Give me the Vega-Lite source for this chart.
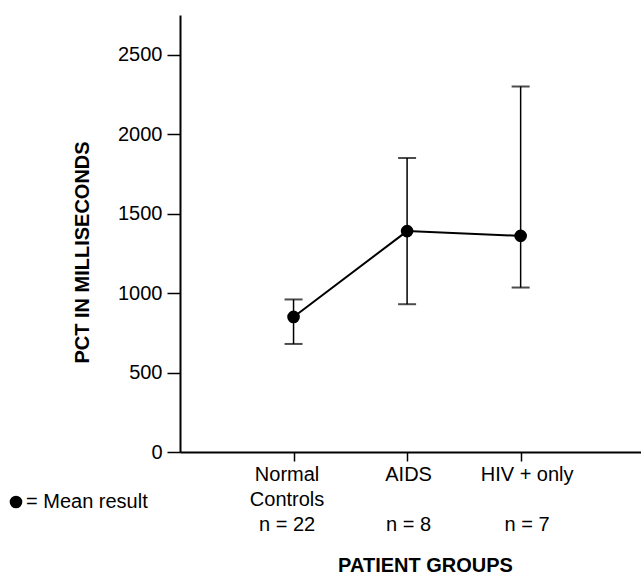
{
  "$schema": "https://vega.github.io/schema/vega-lite/v6.json",
  "width": 461,
  "height": 437,
  "autosize": {"type": "none"},
  "padding": {"left": 180, "top": 15, "right": 0, "bottom": 123},
  "background": "white",
  "config": {
    "view": {"stroke": null},
    "font": "Liberation Sans",
    "axis": {"grid": false, "domainColor": "black", "tickColor": "black", "labelColor": "black", "titleColor": "black", "domainWidth": 2, "tickWidth": 1.5, "labelFont": "Liberation Sans", "titleFont": "Liberation Sans"}
  },
  "data": {
    "values": [
      {"group": 1, "name": "Normal Controls", "n": 22, "mean": 850, "low": 680, "high": 960},
      {"group": 2, "name": "AIDS", "n": 8, "mean": 1390, "low": 930, "high": 1850},
      {"group": 3, "name": "HIV + only", "n": 7, "mean": 1360, "low": 1035, "high": 2300}
    ]
  },
  "encoding": {
    "x": {
      "field": "group", "type": "quantitative",
      "scale": {"domain": [0, 4.06], "nice": false, "zero": false},
      "axis": {
        "values": [1, 2, 3],
        "labelExpr": "datum.value == 1 ? ['Normal', 'Controls', 'n = 22'] : datum.value == 2 ? ['AIDS', '\u200b', 'n = 8'] : ['HIV + only', '\u200b', 'n = 7']",
        "labelFontSize": 20,
        "labelLineHeight": 25,
        "labelPadding": 3,
        "labelOffset": {"condition": [{"test": "datum.value == 1", "value": -7}, {"test": "datum.value == 3", "value": 6}], "value": 1},
        "tickSize": 9,
        "title": "PATIENT GROUPS",
        "titleFontSize": 20,
        "titleFontWeight": "bold",
        "titleX": 245,
        "titleY": 119,
        "titleBaseline": "alphabetic",
        "titleAlign": "center",
        "titleAnchor": null
      }
    }
  },
  "layer": [
    {
      "mark": {"type": "rule", "color": "black", "strokeWidth": 1.5},
      "encoding": {
        "y": {"field": "low", "type": "quantitative"},
        "y2": {"field": "high"}
      }
    },
    {
      "mark": {"type": "tick", "orient": "horizontal", "color": "black", "size": 18, "thickness": 2},
      "encoding": {"y": {"field": "low", "type": "quantitative"}}
    },
    {
      "mark": {"type": "tick", "orient": "horizontal", "color": "black", "size": 18, "thickness": 2},
      "encoding": {"y": {"field": "high", "type": "quantitative"}}
    },
    {
      "mark": {"type": "line", "color": "black", "strokeWidth": 2},
      "encoding": {
        "y": {
          "field": "mean", "type": "quantitative",
          "scale": {"domain": [0, 2750], "nice": false},
          "axis": {
            "values": [0, 250, 500, 750, 1000, 1250, 1500, 1750, 2000, 2250, 2500, 2750],
            "format": "d",
            "labelExpr": "datum.value % 500 == 0 ? datum.label : ''",
            "labelFontSize": 20,
            "labelPadding": 5,
            "tickSize": 13,
            "title": "PCT IN  MILLISECONDS",
            "titleFontSize": 20,
            "titleFontWeight": "bold",
            "titleX": -98,
            "titleY": 237,
            "titleBaseline": "middle",
            "titleAlign": "center",
            "titleAnchor": null
          }
        }
      }
    },
    {
      "mark": {"type": "point", "filled": true, "shape": "circle", "size": 160, "opacity": 1},
      "encoding": {
        "y": {"field": "mean", "type": "quantitative"},
        "color": {
          "datum": "= Mean result",
          "scale": {"range": ["black"]},
          "legend": {
            "orient": "none",
            "legendX": -174,
            "legendY": 477,
            "title": null,
            "padding": 0,
            "symbolType": "circle",
            "symbolSize": 160,
            "symbolFillColor": "black",
            "symbolStrokeWidth": 0,
            "symbolOpacity": 1,
            "labelFontSize": 20,
            "labelFont": "Liberation Sans",
            "labelColor": "black",
            "labelOffset": 0
          }
        }
      }
    }
  ]
}
